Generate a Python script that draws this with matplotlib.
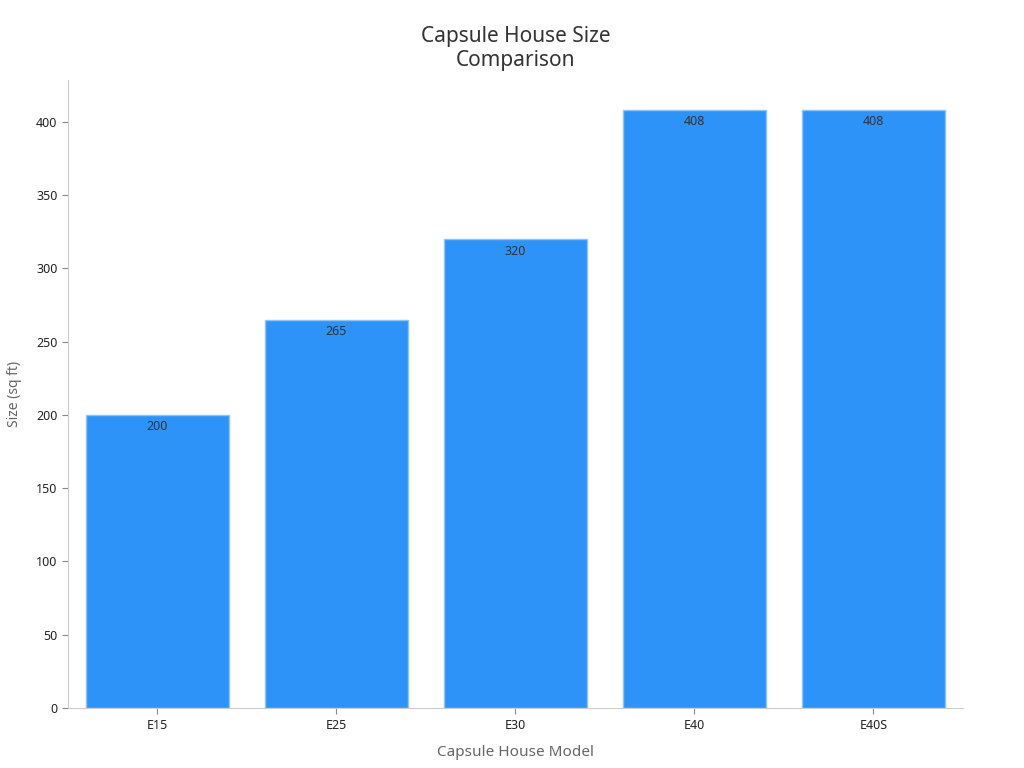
import matplotlib
matplotlib.use("Agg")
import matplotlib.pyplot as plt

# Data
models = ["E15", "E25", "E30", "E40", "E40S"]
sizes = [200, 265, 320, 408, 408]

plt.rcParams['font.family'] = ['Noto Sans', 'DejaVu Sans']

fig = plt.figure(figsize=(10.24, 7.68), dpi=100)
ax = fig.add_axes([0.0664, 0.078, 0.874, 0.8178])

bars = ax.bar(range(len(models)), sizes, width=0.8, color="#2E93F8",
              edgecolor="#8CC4FA", linewidth=1)

for b, v in zip(bars, sizes):
    ax.annotate(f"{v}", (b.get_x() + b.get_width() / 2, v),
                xytext=(0, -4), textcoords="offset points",
                ha="center", va="top", fontsize=9, color="#333333")

ax.set_xticks(range(len(models)))
ax.set_xticklabels(models)
ax.set_xlim(-0.5, len(models) - 0.5)
ax.set_ylim(0, max(sizes) * 1.05)
ax.set_yticks(range(0, 401, 50))

for s in ["top", "right"]:
    ax.spines[s].set_visible(False)
for s in ["left", "bottom"]:
    ax.spines[s].set_color("#cccccc")
ax.tick_params(colors="#222222", labelsize=9, length=4)
ax.tick_params(axis="both", color="#888888")

ax.set_xlabel("Capsule House Model", fontsize=11, color="#666666", labelpad=10)
ax.set_ylabel("Size (sq ft)", fontsize=10, color="#666666", labelpad=10)
ax.set_title("Capsule House Size\nComparison", fontsize=15, color="#333333", pad=10)

fig.savefig("out.png", dpi=100)
